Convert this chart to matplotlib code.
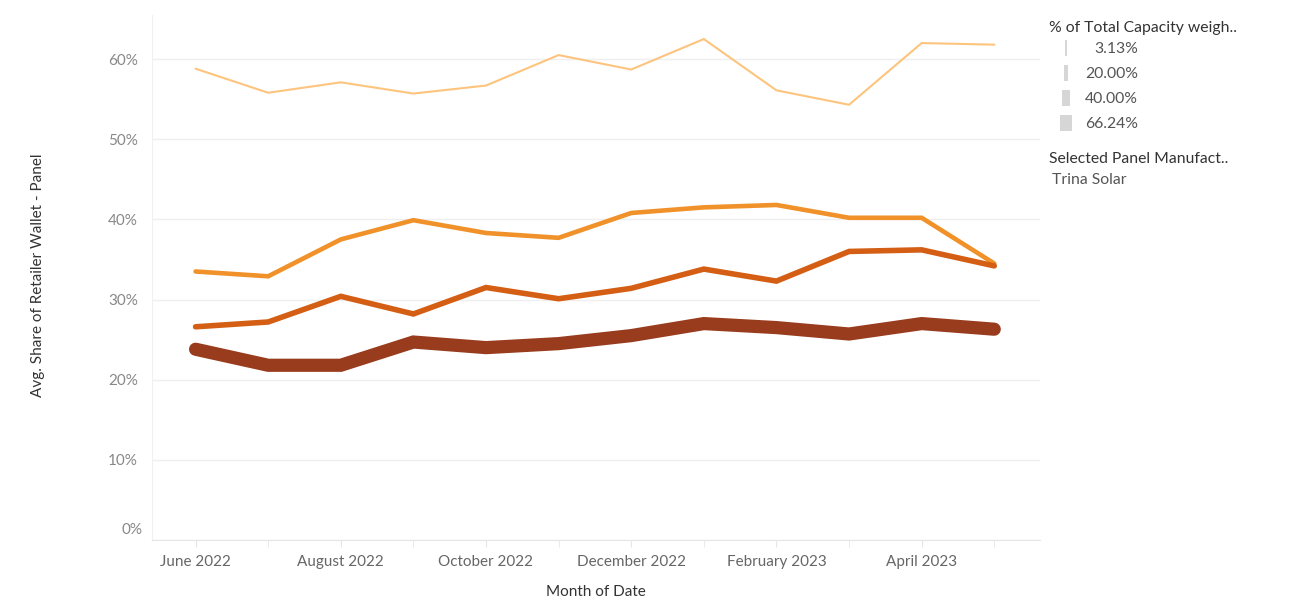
import matplotlib
matplotlib.use('Agg')
import matplotlib.pyplot as plt
from matplotlib.patches import Rectangle
from matplotlib.ticker import FixedLocator, FuncFormatter
import numpy as np

plt.rcParams['font.family'] = ['Lato', 'DejaVu Sans']

# data
months = ['June 2022', 'July 2022', 'August 2022', 'September 2022', 'October 2022',
          'November 2022', 'December 2022', 'January 2023', 'February 2023',
          'March 2023', 'April 2023', 'May 2023']
light = [58.8, 55.8, 57.1, 55.7, 56.7, 60.5, 58.7, 62.5, 56.1, 54.3, 62.0, 61.8]
orange = [33.5, 32.9, 37.5, 39.9, 38.3, 37.7, 40.8, 41.5, 41.8, 40.2, 40.2, 34.5]
dark_orange = [26.6, 27.2, 30.4, 28.2, 31.5, 30.1, 31.4, 33.8, 32.3, 36.0, 36.2, 34.2]
brown = [23.8, 21.8, 21.8, 24.7, 24.0, 24.5, 25.5, 27.0, 26.5, 25.7, 27.0, 26.3]

y_ticks = [0, 10, 20, 30, 40, 50, 60]
legend_labels = ['3.13%', '20.00%', '40.00%', '66.24%']
legend_widths = [1.3, 4, 7.5, 12]   # px

W, H = 1307, 597
fig = plt.figure(figsize=(W / 100, H / 100), dpi=100)
ax = fig.add_axes([152 / W, 1 - 540 / H, (1040 - 152) / W, (540 - 15) / H])

x = np.arange(len(months))
series = [(light, '#FDC47E', 1.5), (orange, '#F0912A', 3.3),
          (dark_orange, '#D35E14', 4.0), (brown, '#993B1D', 9.5)]
for vals, col, lw in series:
    ax.plot(x, vals, color=col, lw=lw, solid_capstyle='round', solid_joinstyle='miter')

ax.set_xlim(-0.6, 11.63)
ax.set_ylim(0, 65.5)

ax.yaxis.set_major_locator(FixedLocator(y_ticks))
# 0% label sits a little above the axis line, drawn separately below
ax.yaxis.set_major_formatter(FuncFormatter(lambda v, p: '' if v == 0 else '%d%%' % v))
ax.grid(axis='y', color='#efefef', lw=1)
ax.set_axisbelow(True)

ax.set_xticks(x[::2])
ax.set_xticklabels(months[::2])
ax.set_xticks(x, minor=True)
ax.tick_params(axis='x', which='both', length=5, color='#e6e6e6', labelsize=11,
               labelcolor='#666666', pad=6)
ax.tick_params(axis='y', length=0, labelsize=11, labelcolor='#888888', pad=10)

for s in ['top', 'right']:
    ax.spines[s].set_visible(False)
ax.spines['left'].set_color('#f0f0f0')
ax.spines['bottom'].set_color('#e6e6e6')

fig.text(142 / W, 1 - 530 / H, '0%', fontsize=11, color='#888888', ha='right', va='center')

ax.set_xlabel('Month of Date', fontsize=11, color='#333333', labelpad=11)
fig.text(38 / W, 1 - 275 / H, 'Avg. Share of Retailer Wallet - Panel', rotation=90,
         ha='center', va='center', fontsize=11, color='#333333')

# size legend
fig.text(1049 / W, 1 - 28 / H, '% of Total Capacity weigh..', fontsize=11.3,
         color='#333333', va='center', ha='left')
for i, (lab, w) in enumerate(zip(legend_labels, legend_widths)):
    yc = 48 + 25 * i
    fig.patches.append(Rectangle(((1066 - w / 2) / W, 1 - (yc + 8) / H), w / W, 16 / H,
                                 transform=fig.transFigure, color='#d6d6d6', lw=0))
    fig.text(1138 / W, 1 - (yc + 1) / H, lab, fontsize=11.3, color='#555555',
             ha='right', va='center')

fig.text(1049 / W, 1 - 159 / H, 'Selected Panel Manufact..', fontsize=11.3,
         color='#333333', va='center', ha='left')
fig.text(1052 / W, 1 - 180 / H, 'Trina Solar', fontsize=11.3, color='#555555',
         va='center', ha='left')

fig.savefig('out.png', dpi=100)
